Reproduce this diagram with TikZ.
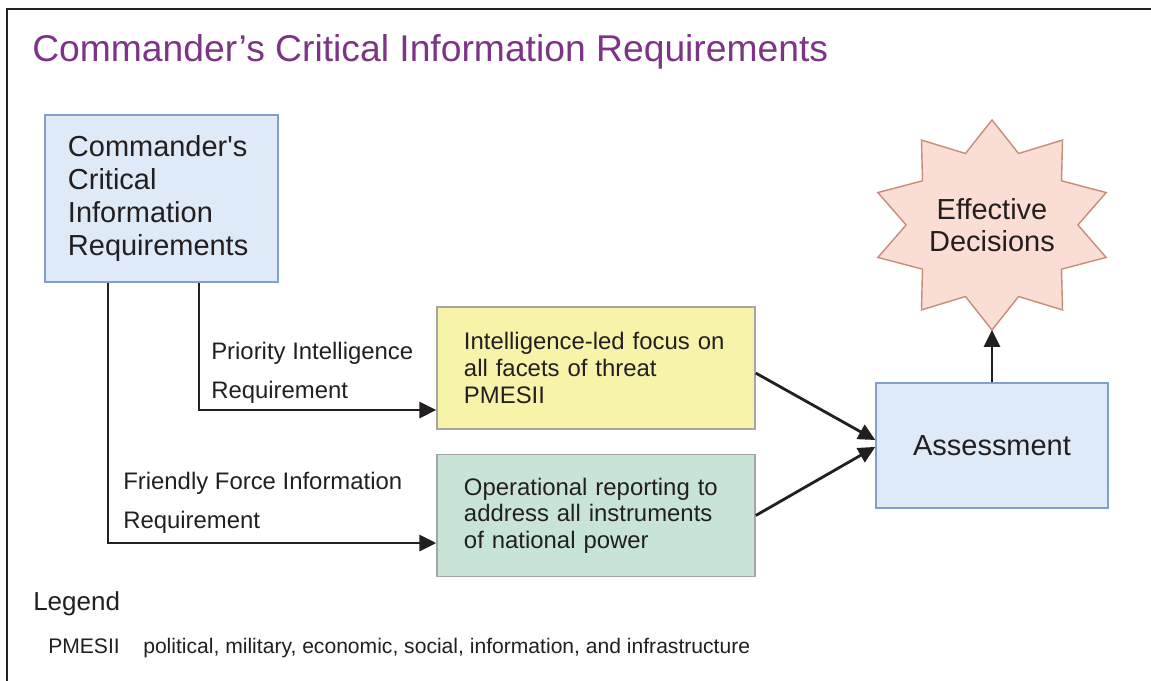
\documentclass[tikz,border=0pt]{standalone}
\usepackage{fontspec}
\setmainfont{Liberation Sans}
\definecolor{titlepurple}{RGB}{125, 52, 135}
\definecolor{inkgray}{RGB}{35, 31, 32}
\definecolor{ccirfill}{RGB}{222, 234, 248}
\definecolor{ccirline}{RGB}{128, 158, 208}
\definecolor{intelfill}{RGB}{247, 243, 168}
\definecolor{opsfill}{RGB}{200, 228, 214}
\definecolor{boxgray}{RGB}{165, 165, 165}
\definecolor{starfill}{RGB}{250, 222, 211}
\definecolor{starline}{RGB}{200, 140, 120}
\usetikzlibrary{arrows.meta, positioning, calc}
\newcommand{\titlefont}{\fontsize{26.5}{30}\selectfont}
\newcommand{\ccirfont}{\fontsize{20.6}{23.5}\selectfont}
\newcommand{\boxfont}{\fontsize{17}{18.9}\selectfont}
\newcommand{\reqfont}{\fontsize{17}{27.7}\selectfont}
\newcommand{\legendfont}{\fontsize{18.5}{22}\selectfont}
\newcommand{\keyfont}{\fontsize{15}{18}\selectfont}
\tikzset{
  bluebox/.style={draw=ccirline, fill=ccirfill, line width=1pt, inner sep=0pt},
  graybox/.style={draw=boxgray, line width=1pt, inner sep=0pt, minimum width=226.2pt,
    minimum height=86.8pt, text width=187.8pt, align=left, font=\boxfont},
  flow/.style={draw=inkgray, line width=2pt, -{Triangle[length=12pt, width=11.4pt]}},
  reqlabel/.style={anchor=west, inner sep=0pt, align=left, font=\reqfont},
  plaintext/.style={anchor=base west, inner sep=0pt}
}

\begin{document}
\begin{tikzpicture}[x=0.025cm, y=-0.025cm, text=inkgray]
  \useasboundingbox (0,0) rectangle (1151,681);

  % frame and title
  \draw[inkgray, line width=2pt] (7,681) -- (7,9) -- (1151,9);
  \node[plaintext, text=titlepurple, font=\titlefont] (title) at (32,62)
    {Commander’s Critical Information Requirements};

  % boxes
  \node[bluebox, minimum width=165.7pt, minimum height=118.8pt, text width=133pt,
    align=left, font=\ccirfont] (ccir) at (161.5,198.5)
    {Commander\textquotesingle s\\Critical\\Information\\Requirements};
  \node[graybox, fill=intelfill] (intel) at (596,368)
    {Intelligence-led focus on\\all facets of threat\\PMESII};
  \node[graybox, fill=opsfill] (ops) at (596,515.5)
    {Operational reporting to\\address all instruments\\of national power};
  \node[bluebox, minimum width=165pt, minimum height=88.9pt, font=\ccirfont] (assess)
    at (992,445.5) {Assessment};

  % star
  \draw[fill=starfill, draw=starline, line width=1pt]
    plot[samples at={0,...,19}]
    ({992+120*(1-0.284*mod(\x,2))*cos(90+18*\x)}, {225-105*(1-0.284*mod(\x,2))*sin(90+18*\x)})
    -- cycle;
  \coordinate (goaltip) at (992,330);
  \node[align=center, inner sep=0pt, font=\fontsize{20.6}{22.8}\selectfont] (goal) at (992,225)
    {Effective\\Decisions};

  % connectors
  \draw[flow] ([xshift=26.7pt]ccir.south) |- ([yshift=-29.9pt]intel.west);
  \draw[flow] ([xshift=-38.1pt]ccir.south) |- ([yshift=-19.6pt]ops.west);
  \draw[flow] ([yshift=-3.6pt]intel.east) -- ([yshift=3.9pt]assess.west);
  \draw[flow] (ops.east) -- ([yshift=-1pt]assess.west);
  \draw[flow] (assess.north) -- (goaltip);

  \node[reqlabel] (pir) at (211,373) {Priority Intelligence\\Requirement};
  \node[reqlabel] (ffir) at (123,503) {Friendly Force Information\\Requirement};

  % legend
  \node[plaintext, font=\legendfont] (legend) at (33,610) {Legend};
  \node[plaintext, font=\keyfont] (abbr) at (48,653) {PMESII};
  \node[plaintext, font=\keyfont] (abbrtext) at (143,653)
    {political, military, economic, social, information, and infrastructure};
\end{tikzpicture}
\end{document}
